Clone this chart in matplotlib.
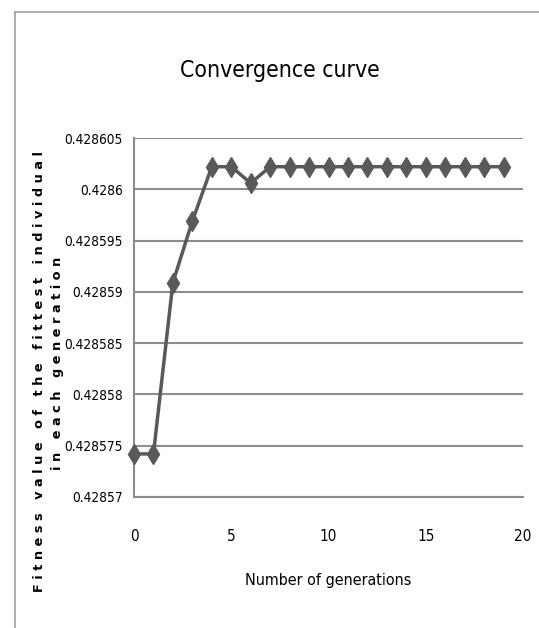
import matplotlib
matplotlib.use("Agg")
import matplotlib.pyplot as plt

generations = list(range(20))
fitness = [0.4285742, 0.4285742, 0.4285909, 0.4285969, 0.4286022, 0.4286022,
           0.4286006, 0.4286022, 0.4286022, 0.4286022, 0.4286022, 0.4286022,
           0.4286022, 0.4286022, 0.4286022, 0.4286022, 0.4286022, 0.4286022,
           0.4286022, 0.4286022]
yticks = [0.42857, 0.428575, 0.42858, 0.428585, 0.42859, 0.428595, 0.4286, 0.428605]
ytick_labels = ["0.42857", "0.428575", "0.42858", "0.428585", "0.42859", "0.428595", "0.4286", "0.428605"]
xticks = [0, 5, 10, 15, 20]

W, H = 539, 628
fig = plt.figure(figsize=(W / 100, H / 100), dpi=100)
cond = dict(family="DejaVu Sans", fontstretch="condensed")

# chart area border
fig.add_artist(plt.Line2D([15 / W, 15 / W], [0, 1 - 12 / H], transform=fig.transFigure, color="#a0a0a0", lw=1.2))
fig.add_artist(plt.Line2D([15 / W, 1], [1 - 12 / H, 1 - 12 / H], transform=fig.transFigure, color="#a0a0a0", lw=1.2))

left, right, top, bottom = 134, 523, 138, 497
ax = fig.add_axes([left / W, 1 - bottom / H, (right - left) / W, (bottom - top) / H])
ax.plot(generations, fitness, color="#595959", lw=2.5, marker="d", markersize=10,
        markerfacecolor="#595959", markeredgecolor="#595959", clip_on=False, zorder=3)
ax.set_xlim(0, 20)
ax.set_ylim(0.42857, 0.428605)
ax.set_yticks(yticks)
ax.set_yticklabels(ytick_labels, fontsize=9.8, **cond)
ax.set_xticks(xticks)
ax.set_xticklabels([str(t) for t in xticks], fontsize=11, **cond)
ax.tick_params(length=0, axis="y", pad=8)
ax.tick_params(length=0, axis="x", pad=23)
ax.grid(axis="y", color="#8c8c8c", lw=1.5)
ax.set_axisbelow(True)
for s in ["top", "right"]:
    ax.spines[s].set_visible(False)
for s in ["left", "bottom"]:
    ax.spines[s].set_color("#8c8c8c")
    ax.spines[s].set_linewidth(1.5)

fig.text((183 + 376) / 2 / W, 1 - 71 / H, "Convergence curve", fontsize=16.5,
         ha="center", va="center", **cond)
fig.text((134 + 523) / 2 / W, 1 - 580 / H, "Number of generations", fontsize=11.5,
         ha="center", va="center", **cond)
fig.text(40 / W, 1 - 371 / H, "F i t n e s s   v a l u e   o f   t h e   f i t t e s t   i n d i v i d u a l",
         fontsize=9.3, fontweight="bold", rotation=90, ha="center", va="center")
fig.text(58 / W, 1 - 363 / H, "i n   e a c h   g e n e r a t i o n",
         fontsize=9.3, fontweight="bold", rotation=90, ha="center", va="center")

fig.savefig("out.png", dpi=100)
